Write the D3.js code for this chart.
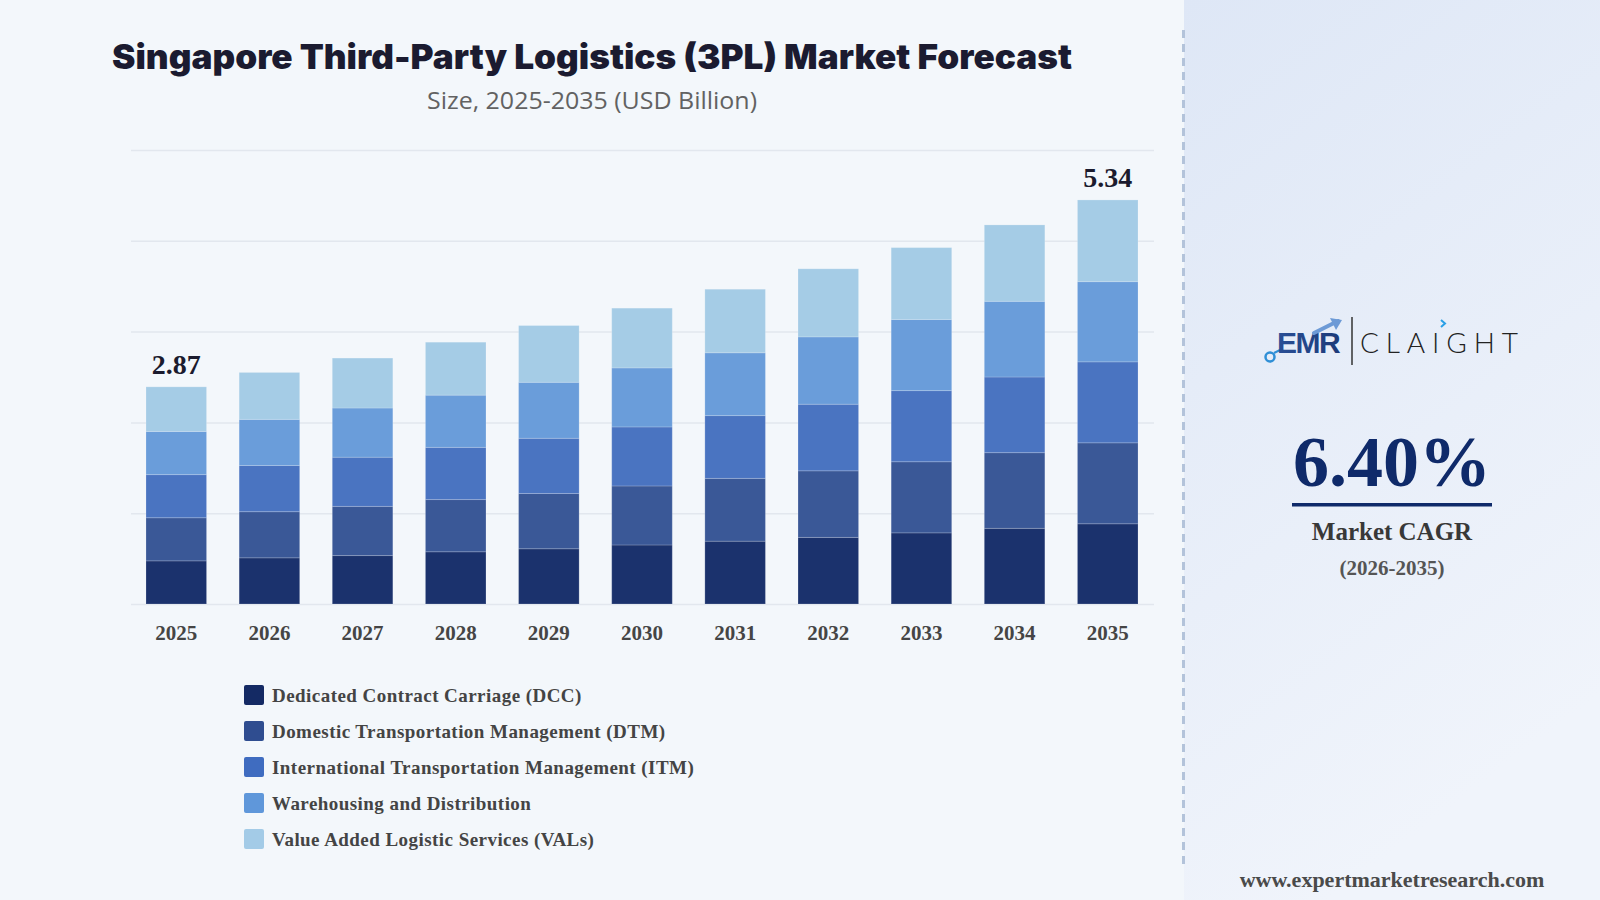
<!DOCTYPE html>
<html>
<head>
<meta charset="utf-8">
<script src="https://cdn.jsdelivr.net/npm/d3@7"></script>
<style>
  html, body { margin: 0; padding: 0; background: #f3f7fb; }
  svg { display: block; }
</style>
</head>
<body>
<svg id="chart" width="1600" height="900"></svg>
<script>
// ---------- DATA ----------
const years = ["2025","2026","2027","2028","2029","2030","2031","2032","2033","2034","2035"];
const seriesNames = [
  "Dedicated Contract Carriage (DCC)",
  "Domestic Transportation Management (DTM)",
  "International Transportation Management (ITM)",
  "Warehousing and Distribution",
  "Value Added Logistic Services (VALs)"
];
const dcc  = [0.57, 0.61, 0.64, 0.69, 0.73, 0.78, 0.83, 0.88, 0.94, 1.00, 1.06];
const dtm  = [0.57, 0.61, 0.65, 0.69, 0.73, 0.78, 0.83, 0.88, 0.94, 1.00, 1.07];
const itm  = [0.57, 0.61, 0.65, 0.69, 0.73, 0.78, 0.83, 0.88, 0.94, 1.00, 1.07];
const wd   = [0.57, 0.61, 0.65, 0.69, 0.74, 0.78, 0.83, 0.89, 0.94, 1.00, 1.06];
const vals = [0.59, 0.62, 0.66, 0.70, 0.75, 0.79, 0.84, 0.90, 0.95, 1.01, 1.08];
const yTicks = [0, 1.2, 2.4, 3.6, 4.8, 6.0];
const labelledYears = ["2025", "2035"];
const cagrText = "6.40%";

// ---------- STYLE ----------
const barColors = ["#1b326d", "#3a5897", "#4a74c1", "#6a9dda", "#a5cce6"];
const legendColors = ["#142a64", "#2f4d90", "#3f6cc0", "#5f97da", "#a3cbe7"];

const svg = d3.select("#chart");
const W = 1600, H = 900;

// backgrounds
const defs = svg.append("defs");
const grad = defs.append("linearGradient").attr("id", "rp")
  .attr("x1", "0").attr("y1", "0").attr("x2", "0.35").attr("y2", "1");
grad.append("stop").attr("offset", "0%").attr("stop-color", "#dee7f6");
grad.append("stop").attr("offset", "100%").attr("stop-color", "#f0f4fb");

svg.append("rect").attr("x", 0).attr("y", 0).attr("width", W).attr("height", H).attr("fill", "#f3f7fb");
svg.append("rect").attr("x", 1184).attr("y", 0).attr("width", W - 1184).attr("height", H).attr("fill", "url(#rp)");
svg.append("line").attr("x1", 1183.5).attr("x2", 1183.5).attr("y1", 30).attr("y2", 866)
  .attr("stroke", "#b3c3da").attr("stroke-width", 3).attr("stroke-dasharray", "8,6");

// ---------- TITLE ----------
svg.append("text")
  .attr("x", 592).attr("y", 68.5)
  .attr("text-anchor", "middle")
  .attr("font-family", "Inter, Roboto, 'Noto Sans', sans-serif")
  .attr("font-weight", 900)
  .attr("font-size", 34)
  .attr("fill", "#1b1b30")
  .attr("textLength", 960)
  .attr("lengthAdjust", "spacingAndGlyphs")
  .text("Singapore Third-Party Logistics (3PL) Market Forecast");

svg.append("text")
  .attr("x", 592).attr("y", 109)
  .attr("text-anchor", "middle")
  .attr("font-family", "'Open Sans', Roboto, sans-serif")
  .attr("font-size", 23)
  .attr("fill", "#626262")
  .attr("textLength", 330)
  .attr("lengthAdjust", "spacingAndGlyphs")
  .text("Size, 2025-2035 (USD Billion)");

// ---------- SCALES ----------
const x = d3.scaleBand().domain(years).range([131, 1153]).paddingInner(0.35).paddingOuter(0.161);
const y = d3.scaleLinear().domain([0, 6]).range([604, 150]);

// gridlines
const gridAxis = d3.axisLeft(y).tickValues(yTicks).tickSize(-(1154 - 131)).tickFormat("");
const gG = svg.append("g").attr("transform", "translate(131,0)").call(gridAxis);
gG.select(".domain").remove();
gG.selectAll(".tick line").attr("stroke", "#e2e7ee").attr("stroke-width", 1.5);

// ---------- STACK ----------
const table = years.map((yr, i) => ({ year: yr, s0: dcc[i], s1: dtm[i], s2: itm[i], s3: wd[i], s4: vals[i] }));
const keys = ["s0", "s1", "s2", "s3", "s4"];
const stacked = d3.stack().keys(keys)(table);

svg.append("g").selectAll("g").data(stacked).join("g")
  .attr("fill", (d, i) => barColors[i])
  .selectAll("rect").data(d => d).join("rect")
  .attr("x", d => x(d.data.year))
  .attr("width", x.bandwidth())
  .attr("y", d => y(d[1]))
  .attr("height", d => y(d[0]) - y(d[1]))
  .attr("stroke", "rgba(255,255,255,0.18)")
  .attr("stroke-width", 1);

// x axis labels
const xAxis = d3.axisBottom(x).tickSize(0).tickPadding(0);
const xG = svg.append("g").attr("transform", "translate(0,604)").call(xAxis);
xG.select(".domain").remove();
xG.selectAll(".tick text")
  .attr("dy", 0).attr("y", 36)
  .attr("font-family", "'Liberation Serif', 'Times New Roman', serif")
  .attr("font-weight", "bold")
  .attr("font-size", 21)
  .attr("fill", "#454545");

// total labels
svg.append("g").selectAll("text")
  .data(table.filter(d => labelledYears.includes(d.year)))
  .join("text")
  .attr("x", d => x(d.year) + x.bandwidth() / 2)
  .attr("y", d => y(keys.reduce((s, k) => s + d[k], 0)) - 13)
  .attr("text-anchor", "middle")
  .attr("font-family", "'Liberation Serif', 'Times New Roman', serif")
  .attr("font-weight", "bold")
  .attr("font-size", 28)
  .attr("fill", "#1b1b2e")
  .text(d => d3.format(".2f")(keys.reduce((s, k) => s + d[k], 0)));

// ---------- LEGEND ----------
const lg = svg.append("g").attr("transform", "translate(244,685)");
const li = lg.selectAll("g").data(seriesNames).join("g")
  .attr("transform", (d, i) => `translate(0,${i * 36})`);
li.append("rect").attr("width", 20).attr("height", 20).attr("rx", 2)
  .attr("fill", (d, i) => legendColors[i]);
li.append("text").attr("x", 28).attr("y", 17)
  .attr("font-family", "'Liberation Serif', 'Times New Roman', serif")
  .attr("font-weight", "bold")
  .attr("font-size", 19)
  .attr("letter-spacing", 0.45)
  .attr("fill", "#444")
  .text(d => d);

// ---------- RIGHT PANEL ----------
const rp = svg.append("g");
// logo: EMR
const emrGrad = defs.append("linearGradient").attr("id", "emr").attr("x1", "0").attr("x2", "1");
emrGrad.append("stop").attr("offset", "0%").attr("stop-color", "#2a4f96");
emrGrad.append("stop").attr("offset", "100%").attr("stop-color", "#1c3a78");
rp.append("circle").attr("cx", 1270).attr("cy", 357).attr("r", 4.5)
  .attr("fill", "none").attr("stroke", "#2f8fd6").attr("stroke-width", 2.5);
rp.append("path").attr("d", "M1274,353 L1280,350")
  .attr("stroke", "#2f8fd6").attr("stroke-width", 2);
rp.append("text").attr("x", 1277).attr("y", 353)
  .attr("font-family", "'Liberation Sans', Arial, sans-serif")
  .attr("font-weight", "bold").attr("font-size", 30)
  .attr("letter-spacing", -1.5)
  .attr("fill", "url(#emr)")
  .text("EMR");
rp.append("path").attr("d", "M1314,333 L1338,321")
  .attr("stroke", "#6d9ad6").attr("stroke-width", 4).attr("stroke-linecap", "round");
rp.append("path").attr("d", "M1330,318 L1342,320 L1336,330 Z").attr("fill", "#6d9ad6");
rp.append("line").attr("x1", 1352).attr("x2", 1352).attr("y1", 317).attr("y2", 365)
  .attr("stroke", "#333").attr("stroke-width", 1.5);
rp.append("text").attr("x", 1360).attr("y", 353)
  .attr("font-family", "Lato, 'Open Sans', sans-serif")
  .attr("font-weight", 300).attr("font-size", 28)
  .attr("letter-spacing", 6)
  .attr("fill", "#222")
  .attr("textLength", 164).attr("lengthAdjust", "spacing")
  .text("CLAIGHT");
rp.append("path").attr("d", "M1441,320 L1445,323.5 L1441,327")
  .attr("fill", "none").attr("stroke", "#2aa0e6").attr("stroke-width", 2);

// CAGR
rp.append("text").attr("x", 1392).attr("y", 486)
  .attr("text-anchor", "middle")
  .attr("font-family", "'Liberation Serif', 'Times New Roman', serif")
  .attr("font-weight", "bold").attr("font-size", 72)
  .attr("fill", "#0f2a6a")
  .text(cagrText);
rp.append("rect").attr("x", 1292).attr("y", 503).attr("width", 200).attr("height", 3.5)
  .attr("fill", "#0f2a6a");
rp.append("text").attr("x", 1392).attr("y", 540)
  .attr("text-anchor", "middle")
  .attr("font-family", "'Liberation Serif', 'Times New Roman', serif")
  .attr("font-weight", "bold").attr("font-size", 25)
  .attr("fill", "#383838")
  .text("Market CAGR");
rp.append("text").attr("x", 1392).attr("y", 575)
  .attr("text-anchor", "middle")
  .attr("font-family", "'Liberation Serif', 'Times New Roman', serif")
  .attr("font-weight", "bold").attr("font-size", 21)
  .attr("fill", "#555")
  .text("(2026-2035)");
rp.append("text").attr("x", 1392).attr("y", 887)
  .attr("text-anchor", "middle")
  .attr("font-family", "'Liberation Serif', 'Times New Roman', serif")
  .attr("font-weight", "bold").attr("font-size", 22)
  .attr("fill", "#4a4a4a")
  .text("www.expertmarketresearch.com");
</script>
</body>
</html>
